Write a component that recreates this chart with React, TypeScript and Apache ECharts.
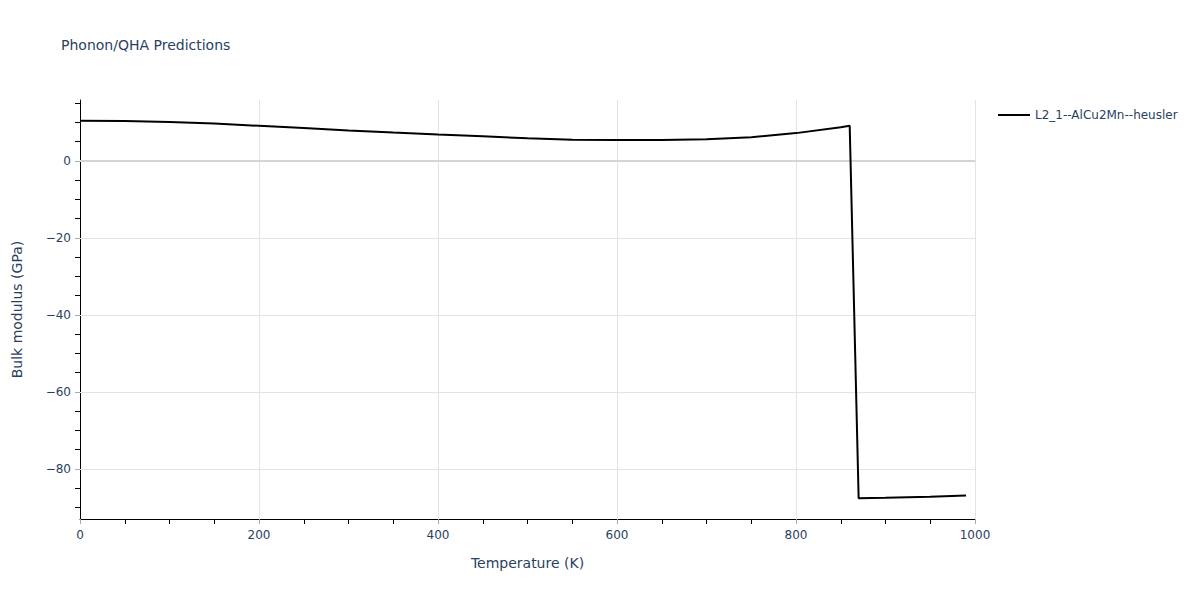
import React, { useEffect, useRef } from "react";
import * as echarts from "echarts";

const temperatures = [0, 50, 100, 150, 200, 250, 300, 350, 400, 450, 500, 550, 600, 650, 700, 750, 800, 850, 860, 870, 900, 950, 990];
const bulkModulus = [10.4, 10.35, 10.1, 9.7, 9.1, 8.5, 7.9, 7.35, 6.85, 6.4, 5.85, 5.5, 5.4, 5.4, 5.6, 6.15, 7.2, 8.75, 9.1, -87.6, -87.5, -87.2, -86.9];
const seriesName = "L2_1--AlCu2Mn--heusler";
const yLabelValues = [-80, -60, -40, -20, 0];
const yMinorTickValues = [-90, -85, -75, -70, -65, -55, -50, -45, -35, -30, -25, -15, -10, -5, 5, 10, 15];
const titleText = "Phonon/QHA Predictions";
const xTitle = "Temperature (K)";
const yTitle = "Bulk modulus (GPa)";

const TEXT = "#2a3f5f";
const FONT = '"DejaVu Sans", verdana, arial, sans-serif';

export default function App() {
  const ref = useRef<HTMLDivElement>(null);
  useEffect(() => {
    if (!ref.current) return;
    const chart = echarts.init(ref.current, undefined, { renderer: "svg" });
    const data = temperatures.map((t, i) => [t, bulkModulus[i]]);
    chart.setOption({
      animation: false,
      backgroundColor: "#fff",
      textStyle: { fontFamily: FONT, color: TEXT },
      title: {
        text: titleText,
        left: 56,
        top: 33,
        textStyle: { fontFamily: FONT, color: TEXT, fontSize: 14, fontWeight: "normal" },
      },
      legend: {
        orient: "vertical",
        left: 993,
        top: 104,
        itemWidth: 32,
        itemHeight: 2,
        itemGap: 4,
        icon: "rect",
        data: [{ name: seriesName, itemStyle: { color: "#000" } }],
        textStyle: { fontFamily: FONT, color: TEXT, fontSize: 12 },
      },
      grid: { left: 80, right: 225, top: 100, bottom: 81, containLabel: false },
      xAxis: {
        type: "value",
        min: 0,
        max: 1000,
        interval: 200,
        name: xTitle,
        nameLocation: "middle",
        nameGap: 37,
        nameTextStyle: { fontFamily: FONT, color: TEXT, fontSize: 14 },
        axisLine: { show: true, onZero: false, lineStyle: { color: "#000", width: 1 } },
        axisTick: { show: true, length: 5, lineStyle: { color: "#aaa" } },
        minorTick: { show: true, splitNumber: 4, length: 5, lineStyle: { color: "#000" } },
        axisLabel: { color: TEXT, fontSize: 12, fontFamily: FONT, margin: 10, formatter: (v: number) => String(v) },
        splitLine: { show: true, lineStyle: { color: "#e3e3e3", width: 1 } },
      },
      yAxis: [
        {
          type: "value",
          min: -93,
          max: 15.8,
          name: yTitle,
          nameLocation: "middle",
          nameGap: 56,
          nameTextStyle: { fontFamily: FONT, color: TEXT, fontSize: 14 },
          axisLine: { show: true, onZero: false, lineStyle: { color: "#000", width: 1 } },
          axisTick: { show: true, length: 5, customValues: yLabelValues, lineStyle: { color: "#aaa" } },
          axisLabel: {
            customValues: yLabelValues,
            color: TEXT,
            fontSize: 12,
            fontFamily: FONT,
            margin: 9,
            formatter: (v: number) => (v < 0 ? "\u2212" + Math.abs(v) : String(v)),
          },
          splitLine: { show: false },
        },
        {
          type: "value",
          min: -93,
          max: 15.8,
          position: "left",
          axisLine: { show: false },
          axisTick: { show: true, length: 5, customValues: yMinorTickValues, lineStyle: { color: "#000" } },
          axisLabel: { show: false },
          splitLine: { show: false },
        },
      ],
      series: [
        {
          name: seriesName,
          type: "line",
          yAxisIndex: 0,
          data,
          showSymbol: false,
          symbol: "none",
          lineStyle: { color: "#000", width: 2 },
          itemStyle: { color: "#000" },
          z: 5,
          markLine: {
            silent: true,
            symbol: "none",
            label: { show: false },
            animation: false,
            data: yLabelValues.map((v) => ({
              yAxis: v,
              lineStyle: { color: v === 0 ? "#d4d4d4" : "#e3e3e3", width: v === 0 ? 2 : 1, type: "solid" },
            })),
          },
        },
      ],
    });
    return () => chart.dispose();
  }, []);
  return <div ref={ref} style={{ width: 1200, height: 600, position: "absolute", left: 0, top: 0 }} />;
}
